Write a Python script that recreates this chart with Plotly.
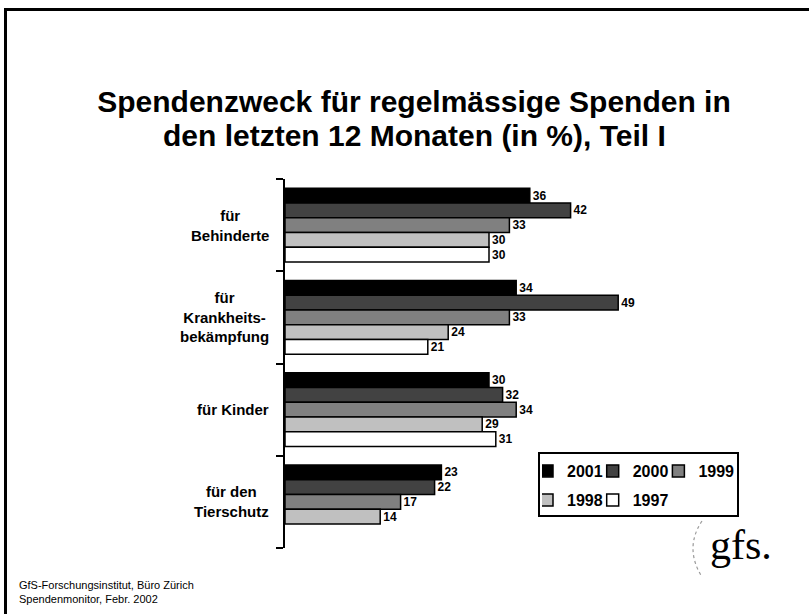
import plotly.graph_objects as go

categories = ["für<br>Behinderte", "für<br>Krankheits-<br>bekämpfung", "für Kinder", "für den<br>Tierschutz"]
years = ["2001", "2000", "1999", "1998", "1997"]
v2001 = [36, 34, 30, 23]
v2000 = [42, 49, 32, 22]
v1999 = [33, 33, 34, 17]
v1998 = [30, 24, 29, 14]
v1997 = [30, 21, 31, None]
series = [v2001, v2000, v1999, v1998, v1997]
colors = ["#000000", "#424242", "#808080", "#c0c0c0", "#ffffff"]

title_line1 = "Spendenzweck für regelmässige Spenden in"
title_line2 = "den letzten 12 Monaten (in %), Teil I"
footer = "GfS-Forschungsinstitut, Büro Zürich<br>Spendenmonitor, Febr. 2002"

W, H = 809, 614
ML, MR, MT, MB = 285, 184, 179, 66
PW, PH = W - ML - MR, H - MT - MB

def px(x):
    return (x - ML) / PW

def py(y):
    return (H - MB - y) / PH

FONT = "Arial, Liberation Sans, sans-serif"

fig = go.Figure()
for i, (yr, vals, col) in enumerate(zip(years, series, colors)):
    fig.add_trace(go.Bar(
        y=list(range(len(categories))), x=vals, name=yr, orientation="h",
        marker=dict(color=col, line=dict(color="black", width=1.5)),
        text=[str(v) if v is not None else "" for v in vals],
        textposition="outside", constraintext="none", cliponaxis=False,
        textfont=dict(family=FONT, size=12, color="black", weight="bold"),
        legend="legend" if i < 3 else "legend2",
    ))

annotations = []
for i, cat in enumerate(categories):
    annotations.append(dict(
        x=px(271), xref="paper", y=i, yref="y", text=cat, showarrow=False,
        xanchor="right", yanchor="middle", align="center",
        font=dict(family=FONT, size=15, color="black", weight="bold")))

annotations.append(dict(
    x=px(414), xref="paper", y=py(135), yref="paper", text=title_line2, showarrow=False,
    xanchor="center", yanchor="middle",
    font=dict(family=FONT, size=30, color="black", weight="bold")))

annotations.append(dict(
    x=px(17), xref="paper", y=py(592), yref="paper", text=footer, showarrow=False,
    xanchor="left", yanchor="middle", align="left",
    font=dict(family=FONT, size=11, color="black")))

annotations.append(dict(
    x=px(741), xref="paper", y=py(545), yref="paper", text="gfs.", showarrow=False,
    xanchor="center", yanchor="middle",
    font=dict(family="Liberation Serif, Times New Roman, serif", size=42, color="black")))

shapes = [
    dict(type="line", xref="paper", yref="paper", x0=px(4), x1=px(809), y0=py(9.5), y1=py(9.5),
         line=dict(color="black", width=3)),
    dict(type="line", xref="paper", yref="paper", x0=px(5.5), x1=px(5.5), y0=py(8), y1=py(614),
         line=dict(color="black", width=3)),
    dict(type="rect", xref="paper", yref="paper", x0=px(539), x1=px(738), y0=py(516), y1=py(453),
         line=dict(color="black", width=2)),
    dict(type="path", xref="paper", yref="paper",
         path=f"M {px(702)},{py(521)} Q {px(684)},{py(548)} {px(702)},{py(577)}",
         line=dict(color="#999999", width=1.2, dash="dot")),
]

legend_common = dict(orientation="h", xref="container", yref="container",
                     x=542 / W, xanchor="left", yanchor="middle",
                     bgcolor="rgba(0,0,0,0)", borderwidth=0, indentation=-15,
                     font=dict(family=FONT, size=16, color="black", weight="bold"),
                     traceorder="normal")

fig.update_layout(
    width=W, height=H,
    margin=dict(l=ML, r=MR, t=MT, b=MB, autoexpand=False),
    paper_bgcolor="white", plot_bgcolor="white",
    barmode="group", bargap=0.2, bargroupgap=0,
    title=dict(text=title_line1, x=414 / W, xref="container", xanchor="center",
               y=1 - 101 / H, yref="container", yanchor="middle",
               font=dict(family=FONT, size=30, color="black", weight="bold")),
    xaxis=dict(range=[0, 50], visible=False),
    yaxis=dict(type="linear", range=[3.5, -0.5], showticklabels=False,
               tickvals=[-0.5, 0.5, 1.5, 2.5, 3.5], ticks="outside", ticklen=7, tickwidth=2,
               tickcolor="black", showline=True, linewidth=2, linecolor="black",
               showgrid=False, zeroline=False),
    legend=dict(legend_common, y=1 - 471 / H),
    legend2=dict(legend_common, y=1 - 500 / H),
    annotations=annotations,
    shapes=shapes,
    showlegend=True,
)

fig.write_html("out.html", config={"displayModeBar": False},
               post_script="document.body.style.margin='0px';")
